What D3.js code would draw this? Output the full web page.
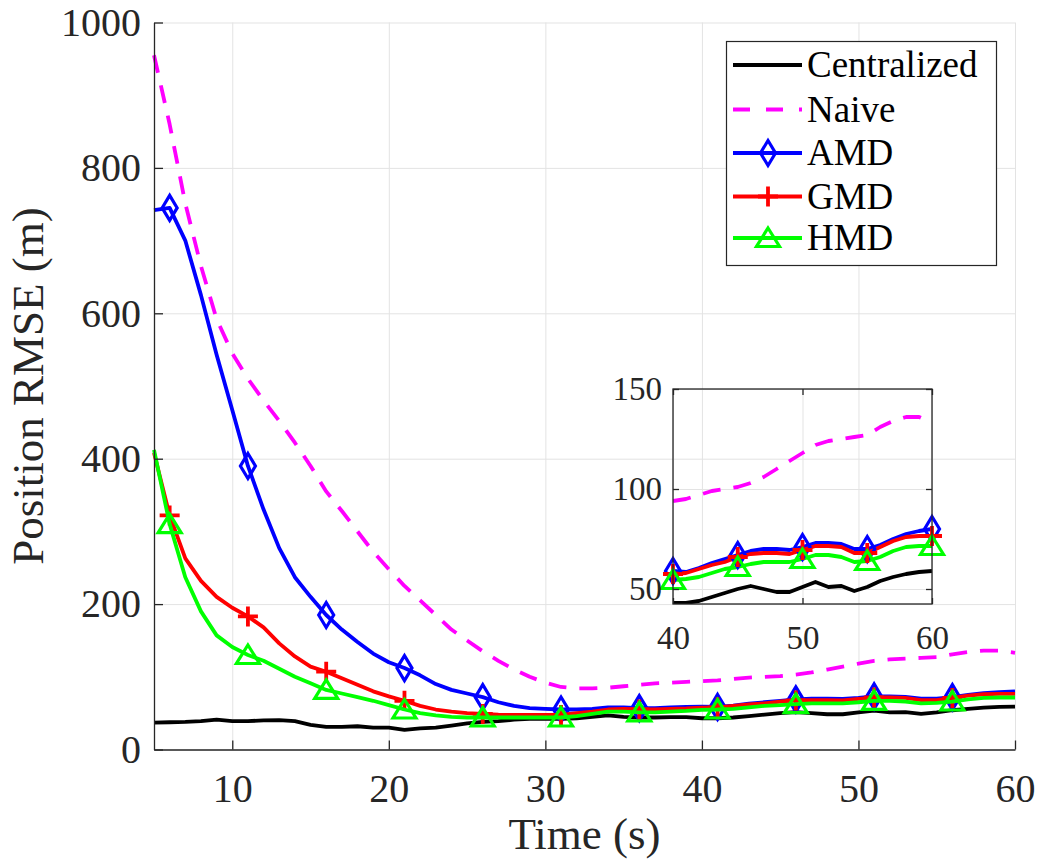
<!DOCTYPE html>
<html>
<head>
<meta charset="utf-8">
<script src="https://cdn.jsdelivr.net/npm/d3@7"></script>
<style>
  html, body { margin: 0; padding: 0; background: #fff; }
  svg { display: block; }
  text { font-family: "Liberation Serif", "Times New Roman", serif; }
</style>
</head>
<body>
<svg id="chart" width="1039" height="860"></svg>
<script>
// ---------------- data ----------------
const times = d3.range(5, 61); // 5..60 s
const centralized = [37,37.5,38,39,41,39,39,40,40.5,39,34,31,31,32,30,30,27,29,30,33,36,38,39,41,42,42,42,43,45,47,45,44,44,44.5,44.5,43,43,44,46,48,50,51.5,50,48.5,48.5,51,53.5,51,51.5,49,51,54,56,57.5,58.5,59];
const naive = [955,860,751,665,592,545,510,480,452,422,390,355,328,300,272,248,225,205,185,165,150,135,122,110,100,92,86,84,84,85,87,89,91,92,93,94,95,97,99,100,101,103,106,110,114,118,122,124,125,126,127,131,134,136,136,133];
const amd = [742,745,700,625,543,467,390,330,277,237,210,185,165,148,132,120,112,102,90,82,77,72,65,60,57,56,55,55,56,58,58,57,57,58,58.5,59,58.5,60.5,63,65,67,69,70,70,69.5,71,73,73,72.5,70,70,72,75,77.5,79,80];
const gmd = [408,322,263,232,210,195,183,168,146,128,114,107,98,89,80,73,67,60,55,52,50,49,48,47.5,47.5,47.5,47.5,50,52,55,56,55,55,56,56.5,57.5,58,60,62,63.5,66,67.5,68,68,67.5,69.5,71.5,71.5,71,68,68,71,74,76,76.5,76.5];
const hmd = [412,310,237,190,157,141,130,122,111,100,91,82,77,72,67,61,55,50,47,45,44,44,44,44,44,44,44,46,49,52,52,51,51,52,53,54.5,55,56,58,60,61,62.5,63.5,63.5,63.5,65,67,67,66,63.5,64,66,69,71,71.5,71.5];

const seriesNames = ["Centralized", "Naive", "AMD", "GMD", "HMD"];
const seriesColors = ["#000000", "#ff00ff", "#0000ff", "#ff0000", "#00ff00"];
const seriesMarkers = ["none", "none", "diamond", "plus", "triangle"];
const seriesDashed = [false, true, false, false, false];
const seriesValues = [centralized, naive, amd, gmd, hmd];

const xTicks = [10, 20, 30, 40, 50, 60];
const yTicks = [0, 200, 400, 600, 800, 1000];
const mainMarkerTimes = [6, 11, 16, 21, 26, 31, 36, 41, 46, 51, 56];
const insetXTicks = [40, 50, 60];
const insetYTicks = [50, 100, 150];
const insetMarkerTimes = [40, 45, 50, 55, 60];

const xLabel = "Time (s)";
const yLabel = "Position RMSE (m)";

// ---------------- setup ----------------
const svg = d3.select("#chart");
const axisColor = "#262626";
const gridColor = "#e3e3e3";
const LW = 3.8;
const fmt = d3.format("d");

const x = d3.scaleLinear().domain([5, 60]).range([154, 1015]);
const y = d3.scaleLinear().domain([0, 1000]).range([749.5, 22.5]);

const series = seriesNames.map((name, i) => ({
  name, color: seriesColors[i], marker: seriesMarkers[i], dashed: seriesDashed[i],
  points: times.map((t, j) => ({ t, v: seriesValues[i][j] }))
}));

function markerPath(type) {
  if (type === "diamond") return "M0,-12.5L7.5,0L0,12.5L-7.5,0Z";
  if (type === "triangle") return "M0,-10L11.5,8.5L-11.5,8.5Z";
  if (type === "plus") return "M-10,0L10,0M0,-10L0,10";
  return null;
}
function drawMarker(g, type, color, cx, cy) {
  const p = markerPath(type);
  if (!p) return;
  g.append("path").attr("d", p)
    .attr("transform", `translate(${cx},${cy})`)
    .attr("fill", "none").attr("stroke", color)
    .attr("stroke-width", type === "plus" ? 3.8 : 3.2)
    .attr("stroke-linejoin", "miter");
}

// ---------------- main axes ----------------
const main = svg.append("g");
const defs = svg.append("defs");

// grid
main.append("g").call(d3.axisBottom(x).tickValues(xTicks).tickSize(-(749.5 - 22.5)).tickFormat(""))
  .attr("transform", "translate(0,749.5)")
  .call(g => g.select(".domain").remove())
  .call(g => g.selectAll("line").attr("stroke", gridColor).attr("stroke-width", 1));
main.append("g").call(d3.axisLeft(y).tickValues(yTicks).tickSize(-(1015 - 154)).tickFormat(""))
  .attr("transform", "translate(154,0)")
  .call(g => g.select(".domain").remove())
  .call(g => g.selectAll("line").attr("stroke", gridColor).attr("stroke-width", 1));

// lines
const line = d3.line().x(d => x(d.t)).y(d => y(d.v));
const mainLines = main.append("g");
series.forEach(s => {
  mainLines.append("path").datum(s.points).attr("d", line)
    .attr("fill", "none").attr("stroke", s.color).attr("stroke-width", LW)
    .attr("stroke-linejoin", "round")
    .attr("stroke-dasharray", s.dashed ? "18,13" : null);
  if (s.marker !== "none") {
    mainMarkerTimes.forEach(t => {
      const p = s.points.find(d => d.t === t);
      drawMarker(mainLines, s.marker, s.color, x(p.t), y(p.v));
    });
  }
});

// axes lines + ticks
const xAxis = main.append("g").attr("transform", "translate(0,749.5)")
  .call(d3.axisBottom(x).tickValues(xTicks).tickFormat(fmt).tickSize(-9).tickPadding(24).tickSizeOuter(0));
const yAxis = main.append("g").attr("transform", "translate(154,0)")
  .call(d3.axisLeft(y).tickValues(yTicks).tickFormat(fmt).tickSize(-9).tickPadding(13).tickSizeOuter(0));
[xAxis, yAxis].forEach(a => {
  a.select(".domain").attr("stroke", axisColor).attr("stroke-width", 1.3);
  a.selectAll(".tick line").attr("stroke", axisColor).attr("stroke-width", 1.3);
  a.selectAll(".tick text").attr("fill", axisColor)
    .style("font-family", "'Liberation Serif', serif").style("font-size", "40px");
});
xAxis.selectAll(".tick text").attr("dy", "0.71em");

// axis labels
main.append("text").text(xLabel).attr("x", 584.5).attr("y", 849)
  .attr("text-anchor", "middle").attr("fill", axisColor).style("font-size", "45px");
main.append("text").text(yLabel)
  .attr("transform", "translate(43,386) rotate(-90)")
  .attr("text-anchor", "middle").attr("fill", axisColor).style("font-size", "45px");

// ---------------- legend ----------------
const lg = svg.append("g");
lg.append("rect").attr("x", 726.5).attr("y", 41.5).attr("width", 270).attr("height", 224)
  .attr("fill", "#fff").attr("stroke", axisColor).attr("stroke-width", 1.2);
const rowY = [65, 109.5, 153, 196.5, 238];
series.forEach((s, i) => {
  const ry = rowY[i];
  lg.append("line").attr("x1", 733).attr("x2", 802).attr("y1", ry).attr("y2", ry)
    .attr("stroke", s.color).attr("stroke-width", LW)
    .attr("stroke-dasharray", s.dashed ? "17,16" : null);
  drawMarker(lg, s.marker, s.color, 768, ry);
  lg.append("text").text(s.name).attr("x", 807).attr("y", ry).attr("dy", "0.33em")
    .attr("fill", "#000").style("font-size", "37px");
});

// ---------------- inset ----------------
const ix = d3.scaleLinear().domain([40, 60]).range([673, 932]);
const iy = d3.scaleLinear().domain([42.5, 150]).range([604, 389]);
const inset = svg.append("g");

inset.append("g").attr("transform", "translate(0,604)")
  .call(d3.axisBottom(ix).tickValues(insetXTicks).tickSize(-(604 - 389)).tickFormat(""))
  .call(g => g.select(".domain").remove())
  .call(g => g.selectAll("line").attr("stroke", gridColor).attr("stroke-width", 1));
inset.append("g").attr("transform", "translate(673,0)")
  .call(d3.axisLeft(iy).tickValues(insetYTicks).tickSize(-(932 - 673)).tickFormat(""))
  .call(g => g.select(".domain").remove())
  .call(g => g.selectAll("line").attr("stroke", gridColor).attr("stroke-width", 1));

defs.append("clipPath").attr("id", "insetClip")
  .append("rect").attr("x", 673).attr("y", 389).attr("width", 932 - 673).attr("height", 604 - 389);

const iline = d3.line().x(d => ix(d.t)).y(d => iy(d.v));
const insetLines = inset.append("g");
const insetClipped = insetLines.append("g").attr("clip-path", "url(#insetClip)");
series.forEach(s => {
  const pts = s.points.filter(d => d.t >= 40);
  insetClipped.append("path").datum(pts).attr("d", iline)
    .attr("fill", "none").attr("stroke", s.color).attr("stroke-width", LW)
    .attr("stroke-linejoin", "round")
    .attr("stroke-dasharray", s.dashed ? "18,13" : null);
});
series.forEach(s => {
  if (s.marker === "none") return;
  insetMarkerTimes.forEach(t => {
    const p = s.points.find(d => d.t === t);
    drawMarker(insetLines, s.marker, s.color, ix(p.t), iy(p.v));
  });
});

// inset box + ticks
inset.append("rect").attr("x", 673).attr("y", 389).attr("width", 932 - 673).attr("height", 604 - 389)
  .attr("fill", "none").attr("stroke", axisColor).attr("stroke-width", 1.3);
const ixAxis = inset.append("g").attr("transform", "translate(0,604)")
  .call(d3.axisBottom(ix).tickValues(insetXTicks).tickFormat(fmt).tickSize(-6).tickPadding(22).tickSizeOuter(0));
const iyAxis = inset.append("g").attr("transform", "translate(673,0)")
  .call(d3.axisLeft(iy).tickValues(insetYTicks).tickFormat(fmt).tickSize(-6).tickPadding(11).tickSizeOuter(0));
inset.append("g").attr("transform", "translate(0,389)")
  .call(d3.axisTop(ix).tickValues(insetXTicks).tickSize(-6).tickFormat("").tickSizeOuter(0))
  .call(g => g.select(".domain").remove())
  .call(g => g.selectAll("line").attr("stroke", axisColor).attr("stroke-width", 1.3));
inset.append("g").attr("transform", "translate(932,0)")
  .call(d3.axisRight(iy).tickValues(insetYTicks).tickSize(-6).tickFormat("").tickSizeOuter(0))
  .call(g => g.select(".domain").remove())
  .call(g => g.selectAll("line").attr("stroke", axisColor).attr("stroke-width", 1.3));
[ixAxis, iyAxis].forEach(a => {
  a.select(".domain").remove();
  a.selectAll(".tick line").attr("stroke", axisColor).attr("stroke-width", 1.3);
  a.selectAll(".tick text").attr("fill", axisColor)
    .style("font-family", "'Liberation Serif', serif").style("font-size", "33px");
});
ixAxis.selectAll(".tick text").attr("dy", "0.71em");
</script>
</body>
</html>
